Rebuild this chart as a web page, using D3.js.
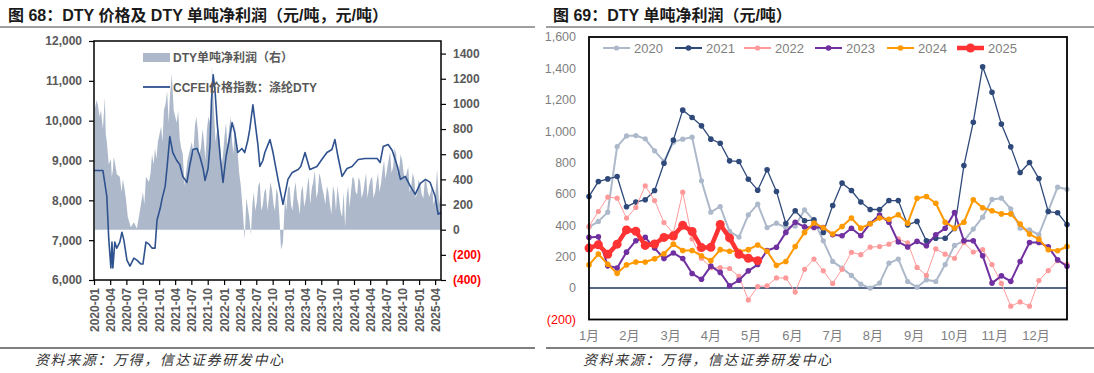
<!DOCTYPE html>
<html>
<head>
<meta charset="utf-8">
<script src="https://cdn.jsdelivr.net/npm/d3@7"></script>
<style>
  body { margin: 0; background: #fff; }
  svg { display: block; font-family: "Liberation Sans", "Noto Sans CJK SC", sans-serif; }
  .title { font-size: 16px; font-weight: bold; fill: #1a1a1a; }
  .source { font-size: 14px; font-style: italic; fill: #333; letter-spacing: 1.6px; }
</style>
</head>
<body>
<div id="chart"></div>
<script>
// ---------- left chart data: CCFEI DTY price (left axis) ----------
var priceDates = ["2020-01-01","2020-02-20","2020-03-13","2020-03-24","2020-04-05","2020-04-11","2020-04-16","2020-04-27",
  "2020-05-08","2020-05-25","2020-06-06","2020-06-17","2020-07-04","2020-07-21","2020-08-12","2020-08-29","2020-09-21",
  "2020-10-02","2020-10-19","2020-11-05","2020-11-22","2020-12-09","2020-12-20","2021-01-07","2021-01-18","2021-02-04",
  "2021-02-15","2021-03-02","2021-03-19","2021-04-10","2021-04-27","2021-05-14","2021-06-06","2021-06-23","2021-07-10",
  "2021-08-02","2021-08-18","2021-09-05","2021-09-16","2021-10-03","2021-10-14","2021-10-22","2021-11-01","2021-11-12",
  "2021-11-23","2021-12-10","2021-12-26","2022-01-12","2022-01-29","2022-02-15","2022-03-02","2022-03-19","2022-04-11",
  "2022-04-27","2022-05-14","2022-05-25","2022-06-12","2022-06-23","2022-07-10","2022-07-21","2022-08-07","2022-08-18",
  "2022-09-16","2022-10-03","2022-10-31","2022-11-28","2022-12-26","2023-01-19","2023-02-21","2023-03-08","2023-04-01",
  "2023-04-28","2023-06-07","2023-07-04","2023-08-02","2023-08-30","2023-09-16","2023-10-03","2023-10-26","2023-11-23",
  "2023-12-21","2024-01-25","2024-03-03","2024-04-12","2024-05-10","2024-05-27","2024-06-13","2024-07-11","2024-08-03",
  "2024-09-01","2024-09-18","2024-10-15","2024-11-13","2024-12-10","2025-01-08","2025-02-06","2025-03-04","2025-04-01",
  "2025-04-18","2025-05-04"];
var priceValues = [8750,8750,8100,7025,6300,6950,6300,6950,
  6800,6950,7200,7000,6500,6350,6550,6500,6400,
  6400,6950,6900,6800,6800,7500,7800,8050,8350,
  8850,9600,9200,9000,8900,8600,8450,8900,9275,
  9300,9100,8800,8500,8800,9400,10500,11150,10700,
  9950,9100,8450,9100,9500,9950,9700,9200,9300,
  9200,9500,9775,10400,10000,9400,8850,9000,9200,
  9525,9200,8525,7900,8525,8700,8775,8850,9200,
  8775,8850,9025,9200,9275,9525,9100,8600,8800,
  8850,9025,9050,9050,9050,8950,9350,9400,9250,
  8850,8525,8600,8350,8150,8425,8525,8450,8100,
  7650,7700];

// ---------- left chart data: DTY profit per ton (right axis) ----------
var profitDates = [
  "2020-01-06","2020-01-15","2020-01-23","2020-02-01","2020-02-09","2020-02-20","2020-03-02","2020-03-07","2020-03-13","2020-03-24",
  "2020-04-05","2020-04-10","2020-04-16","2020-04-21","2020-04-27","2020-05-08","2020-05-25","2020-06-04","2020-06-11","2020-06-20",
  "2020-06-28","2020-07-09","2020-07-26","2020-08-12","2020-08-29","2020-09-15","2020-10-02","2020-10-10","2020-10-19","2020-11-05",
  "2020-11-14","2020-11-22","2020-12-01","2020-12-09","2020-12-17","2020-12-25","2021-01-12","2021-01-20","2021-01-28","2021-02-06",
  "2021-02-15","2021-02-24","2021-03-02","2021-03-13","2021-03-24","2021-04-10","2021-04-18","2021-04-27","2021-05-05","2021-05-14",
  "2021-05-24","2021-06-01","2021-06-09","2021-06-17","2021-07-04","2021-07-12","2021-07-21","2021-07-29","2021-08-07","2021-08-15",
  "2021-08-24","2021-09-02","2021-09-10","2021-09-18","2021-09-27","2021-10-05","2021-10-14","2021-10-20","2021-10-25","2021-10-30",
  "2021-11-05","2021-11-14","2021-11-22","2021-12-01","2021-12-09","2021-12-18","2021-12-26","2022-01-04","2022-01-12","2022-01-20",
  "2022-01-29","2022-02-07","2022-02-15","2022-02-23","2022-03-02","2022-03-10","2022-03-19","2022-03-27","2022-04-05","2022-04-16",
  "2022-04-27","2022-05-06","2022-05-14","2022-05-22","2022-06-01","2022-06-09","2022-06-17","2022-06-25","2022-07-04","2022-07-12",
  "2022-07-21","2022-07-29","2022-08-07","2022-08-15","2022-08-24","2022-09-01","2022-09-10","2022-09-18","2022-09-27","2022-10-06",
  "2022-10-14","2022-10-22","2022-10-31","2022-11-08","2022-11-17","2022-11-28","2022-12-09","2022-12-17","2022-12-26","2023-01-04",
  "2023-01-12","2023-01-20","2023-01-29","2023-02-07","2023-02-15","2023-02-23","2023-03-02","2023-03-10","2023-03-19","2023-03-27",
  "2023-04-06","2023-04-14","2023-04-22","2023-04-30","2023-05-09","2023-05-17","2023-05-26","2023-06-04","2023-06-12","2023-06-20",
  "2023-06-29","2023-07-07","2023-07-15","2023-07-24","2023-08-02","2023-08-10","2023-08-19","2023-08-27","2023-09-05","2023-09-13",
  "2023-09-22","2023-09-30","2023-10-09","2023-10-17","2023-10-26","2023-11-04","2023-11-12","2023-11-20","2023-11-29","2023-12-07",
  "2023-12-15","2023-12-24","2024-01-02","2024-01-10","2024-01-19","2024-01-27","2024-02-05","2024-02-13","2024-02-22","2024-03-01",
  "2024-03-09","2024-03-17","2024-03-26","2024-04-04","2024-04-12","2024-04-20","2024-04-29","2024-05-07","2024-05-15","2024-05-23",
  "2024-06-02","2024-06-10","2024-06-18","2024-06-26","2024-07-05","2024-07-13","2024-07-22","2024-07-30","2024-08-08","2024-08-16",
  "2024-08-25","2024-09-02","2024-09-11","2024-09-19","2024-09-28","2024-10-06","2024-10-15","2024-10-23","2024-11-01","2024-11-09",
  "2024-11-18","2024-11-26","2024-12-05","2024-12-13","2024-12-21","2024-12-29","2025-01-08","2025-01-16","2025-01-25","2025-02-02",
  "2025-02-11","2025-02-19","2025-02-28","2025-03-07","2025-03-15","2025-03-23","2025-04-01","2025-04-12","2025-04-23","2025-05-04"];
var profitValues = [
  960,1030,990,900,950,800,1050,760,700,520,
  560,420,470,580,540,440,420,300,400,330,
  250,100,20,60,10,150,300,200,420,380,
  450,600,520,650,560,700,820,700,950,1000,
  1100,850,1050,1240,950,850,950,720,650,600,
  350,450,550,600,700,600,820,900,780,600,
  650,800,700,550,800,900,850,750,1300,1150,
  950,700,780,800,700,500,600,750,850,650,
  800,900,700,600,850,700,600,450,350,150,
  -80,250,180,100,-40,200,300,150,220,350,
  380,150,200,300,330,150,250,380,320,200,
  150,330,280,100,-160,-100,250,150,330,350,
  200,150,300,380,250,200,120,300,350,180,
  250,350,420,200,330,380,470,250,300,450,
  400,330,280,200,350,300,200,120,350,300,
  150,350,250,150,100,300,20,250,350,180,
  300,420,400,300,280,420,380,250,300,380,
  450,250,350,400,420,250,300,380,450,300,
  380,480,550,400,480,550,620,450,500,650,
  600,450,480,600,550,450,400,450,500,300,
  350,450,400,250,300,400,350,280,250,400,
  380,300,260,300,350,200,250,480,200,300];

var quarterTicks = ["2020-01","2020-04","2020-07","2020-10","2021-01","2021-04","2021-07","2021-10",
  "2022-01","2022-04","2022-07","2022-10","2023-01","2023-04","2023-07","2023-10",
  "2024-01","2024-04","2024-07","2024-10","2025-01","2025-04"];
var priceTicks = [6000, 7000, 8000, 9000, 10000, 11000, 12000];
var profitTicks = [-400, -200, 0, 200, 400, 600, 800, 1000, 1200, 1400];

// ---------- right chart data: weekly profit by year ----------
var monthLabels = ["1月","2月","3月","4月","5月","6月","7月","8月","9月","10月","11月","12月"];
var monthWeek = [0, 4.3, 8.7, 13, 17.3, 21.7, 26, 30.3, 34.7, 39, 43.3, 47.7];
var yearTicks = [-200, 0, 200, 400, 600, 800, 1000, 1200, 1400, 1600];
var years = ["2020", "2021", "2022", "2023", "2024", "2025"];

var profit2020 = [389,425,484,902,970,972,951,875,807,930,949,962,684,
  484,520,361,325,467,535,386,414,386,395,499,430,301,
  170,127,81,25,0,32,159,185,42,6,53,42,150,
  272,301,376,452,565,573,505,382,371,340,492,643,630];
var profit2021 = [584,679,696,711,518,548,563,622,796,943,1134,1087,1034,
  949,923,811,807,694,624,754,616,412,493,429,435,355,
  526,669,622,548,501,501,558,558,403,425,301,318,318,
  380,781,1057,1410,1248,1045,900,737,800,698,488,480,405];
var profit2022 = [393,488,580,573,446,514,652,558,418,350,611,314,191,
  130,130,125,75,-75,10,15,65,65,-25,120,185,110,
  30,120,228,213,261,265,280,314,288,132,81,250,216,
  190,290,230,245,150,30,-115,-88,-115,48,112,175,152];
var profit2023 = [323,327,142,128,229,302,323,255,188,224,188,93,56,
  140,100,15,50,110,150,240,260,355,420,390,386,386,
  340,334,381,334,412,466,420,294,262,298,270,340,381,
  482,302,302,206,32,78,43,170,291,291,263,180,139];
var profit2024 = [148,217,152,94,148,166,166,187,219,280,240,240,206,
  175,245,235,235,245,275,235,145,170,265,355,415,385,
  345,393,446,382,410,446,439,467,414,573,584,541,420,
  382,420,563,512,493,473,473,408,344,312,244,238,265];
var profit2025 = [255,276,215,280,371,362,272,281,323,332,400,361,258,
  260,405,320,215,190,175];

var yearSeries = [profit2020, profit2021, profit2022, profit2023, profit2024, profit2025];
var yearColors = ["#adb9ca", "#2f4a7a", "#ff9a9a", "#7030a0", "#ff9900", "#ff3333"];
var yearWidths = [2, 1.3, 1, 2, 2, 4.5];
var yearDots = [2.6, 2.8, 2.6, 2.8, 2.8, 4.5];

var parseDay = d3.timeParse("%Y-%m-%d");
var parseMonth = d3.timeParse("%Y-%m");

var svg = d3.select("#chart")
  .append("svg")
  .attr("width", 1094)
  .attr("height", 373);

// ---------- header / footer rules and titles ----------
svg.append("text").attr("class", "title").attr("x", 8).attr("y", 21)
  .text("图 68：DTY 价格及 DTY 单吨净利润（元/吨，元/吨）");
svg.append("text").attr("class", "title").attr("x", 553).attr("y", 21)
  .text("图 69：DTY 单吨净利润（元/吨）");

[[0, 535], [546, 1094]].forEach(function(seg) {
  svg.append("line").attr("x1", seg[0]).attr("x2", seg[1]).attr("y1", 27).attr("y2", 27)
    .attr("stroke", "#7f7f7f").attr("stroke-width", 1.5);
  svg.append("line").attr("x1", seg[0]).attr("x2", seg[1]).attr("y1", 348).attr("y2", 348)
    .attr("stroke", "#7f7f7f").attr("stroke-width", 2);
});
svg.append("text").attr("class", "source").attr("x", 35).attr("y", 365).text("资料来源：万得，信达证券研发中心");
svg.append("text").attr("class", "source").attr("x", 583).attr("y", 365).text("资料来源：万得，信达证券研发中心");

// =================== LEFT CHART ===================
var L = { left: 94, right: 441, top: 41, bottom: 280 };

var xTime = d3.scaleTime()
  .domain([parseDay("2020-01-01"), parseDay("2025-05-04")])
  .range([L.left, L.right]);
var yPrice = d3.scaleLinear().domain([6000, 12000]).range([L.bottom, L.top]);
var yProfit = d3.scaleLinear().domain([-400, 1500]).range([L.bottom, L.top]);

svg.append("clipPath").attr("id", "clipL")
  .append("rect").attr("x", L.left).attr("y", L.top)
  .attr("width", L.right - L.left).attr("height", L.bottom - L.top);

var profitRows = profitDates.map(function(d, i) { return { date: parseDay(d), value: profitValues[i] }; });
var priceRows = priceDates.map(function(d, i) { return { date: parseDay(d), value: priceValues[i] }; });

var profitArea = d3.area()
  .x(function(d) { return xTime(d.date); })
  .y0(yProfit(0))
  .y1(function(d) { return yProfit(d.value); });

svg.append("path")
  .datum(profitRows)
  .attr("clip-path", "url(#clipL)")
  .attr("d", profitArea)
  .attr("fill", "#adb9ca");

var priceLine = d3.line()
  .x(function(d) { return xTime(d.date); })
  .y(function(d) { return yPrice(d.value); });

svg.append("path")
  .datum(priceRows)
  .attr("clip-path", "url(#clipL)")
  .attr("d", priceLine)
  .attr("fill", "none")
  .attr("stroke", "#2f528f")
  .attr("stroke-width", 1.6)
  .attr("stroke-linejoin", "round");

// frame
svg.append("rect").attr("x", L.left).attr("y", L.top)
  .attr("width", L.right - L.left).attr("height", L.bottom - L.top)
  .attr("fill", "none").attr("stroke", "#000").attr("stroke-width", 1.5);

// left axis
var leftAxis = svg.append("g")
  .attr("transform", "translate(" + L.left + ",0)")
  .call(d3.axisLeft(yPrice).tickValues(priceTicks).tickSize(5).tickPadding(7).tickFormat(d3.format(",")));
leftAxis.select(".domain").remove();
leftAxis.selectAll("line").attr("stroke", "#000").attr("stroke-width", 1.2);
leftAxis.selectAll("text")
  .attr("font-size", 12).attr("font-weight", "bold").attr("fill", "#595959")
  .attr("font-family", "Liberation Sans, sans-serif");

// right axis (profit)
var rightAxis = svg.append("g")
  .attr("transform", "translate(" + L.right + ",0)")
  .call(d3.axisRight(yProfit).tickValues(profitTicks).tickSize(5).tickPadding(7)
    .tickFormat(function(d) { return d < 0 ? "(" + (-d) + ")" : d; }));
rightAxis.select(".domain").remove();
rightAxis.selectAll("line").attr("stroke", "#000").attr("stroke-width", 1.2);
rightAxis.selectAll("text")
  .attr("font-size", 12).attr("font-weight", "bold")
  .attr("font-family", "Liberation Sans, sans-serif")
  .attr("fill", function(d) { return d < 0 ? "#ff0000" : "#595959"; });

// bottom axis with rotated dates
var bottomAxis = svg.append("g")
  .attr("transform", "translate(0," + L.bottom + ")")
  .call(d3.axisBottom(xTime)
    .tickValues(quarterTicks.map(function(t) { return parseMonth(t); }))
    .tickSize(5)
    .tickFormat(d3.timeFormat("%Y-%m")));
bottomAxis.select(".domain").remove();
bottomAxis.selectAll("line").attr("stroke", "#000").attr("stroke-width", 1.2);
bottomAxis.selectAll("text")
  .attr("font-size", 12).attr("font-weight", "bold").attr("fill", "#595959")
  .attr("font-family", "Liberation Sans, sans-serif")
  .attr("text-anchor", "end")
  .attr("transform", "translate(0,8) rotate(-90)")
  .attr("x", 0).attr("y", 0).attr("dy", "0.35em");

// legend
var legL = svg.append("g").attr("font-size", 12).attr("font-weight", "bold").attr("fill", "#595959");
legL.append("rect").attr("x", 143).attr("y", 53).attr("width", 27).attr("height", 9).attr("fill", "#adb9ca");
legL.append("text").attr("x", 173).attr("y", 62).text("DTY单吨净利润（右）");
legL.append("line").attr("x1", 143).attr("x2", 170).attr("y1", 87).attr("y2", 87)
  .attr("stroke", "#2f528f").attr("stroke-width", 1.8);
legL.append("text").attr("x", 173).attr("y", 92).text("CCFEI价格指数：涤纶DTY");

// =================== RIGHT CHART ===================
var R = { left: 589, right: 1067, top: 37, bottom: 319.5 };

var xWeek = d3.scaleLinear().domain([0, 51]).range([R.left, R.right]);
var yYear = d3.scaleLinear().domain([-200, 1600]).range([R.bottom, R.top]);

// y labels
svg.append("g")
  .selectAll("text")
  .data(yearTicks)
  .enter()
  .append("text")
  .attr("x", 576)
  .attr("y", function(d) { return yYear(d); })
  .attr("dy", "0.35em")
  .attr("text-anchor", "end")
  .attr("font-size", 12.5)
  .attr("fill", function(d) { return d < 0 ? "#ff0000" : "#7f7f7f"; })
  .text(function(d) { return d < 0 ? "(" + (-d) + ")" : d3.format(",")(d); });

// x labels
svg.append("g")
  .selectAll("text")
  .data(monthLabels)
  .enter()
  .append("text")
  .attr("x", function(d, i) { return xWeek(monthWeek[i]); })
  .attr("y", 340)
  .attr("text-anchor", "middle")
  .attr("font-size", 13)
  .attr("fill", "#7f7f7f")
  .text(function(d) { return d; });

// zero line
svg.append("line")
  .attr("x1", R.left).attr("x2", R.right)
  .attr("y1", yYear(0)).attr("y2", yYear(0))
  .attr("stroke", "#1f3864").attr("stroke-width", 1.5);

var weekLine = d3.line()
  .x(function(d, i) { return xWeek(i); })
  .y(function(d) { return yYear(d); });

yearSeries.forEach(function(series, k) {
  var g = svg.append("g");
  g.append("path")
    .datum(series)
    .attr("d", weekLine)
    .attr("fill", "none")
    .attr("stroke", yearColors[k])
    .attr("stroke-width", yearWidths[k])
    .attr("stroke-linejoin", "round");
  g.selectAll("circle")
    .data(series)
    .enter()
    .append("circle")
    .attr("cx", function(d, i) { return xWeek(i); })
    .attr("cy", function(d) { return yYear(d); })
    .attr("r", yearDots[k])
    .attr("fill", yearColors[k]);
});

// frame
svg.append("rect").attr("x", R.left).attr("y", R.top)
  .attr("width", R.right - R.left).attr("height", R.bottom - R.top)
  .attr("fill", "none").attr("stroke", "#000").attr("stroke-width", 1.8);

// legend
var legX = [634, 706, 775, 846, 918, 988];
var legR = svg.append("g");
years.forEach(function(y, k) {
  var tx = legX[k];
  legR.append("line").attr("x1", tx - 31).attr("x2", tx - 4).attr("y1", 48).attr("y2", 48)
    .attr("stroke", yearColors[k]).attr("stroke-width", k === 5 ? 4.5 : 2);
  legR.append("circle").attr("cx", tx - 17.5).attr("cy", 48).attr("r", yearDots[k]).attr("fill", yearColors[k]);
  legR.append("text").attr("x", tx).attr("y", 48).attr("dy", "0.35em")
    .attr("font-size", 13).attr("fill", "#7f7f7f").text(y);
});
</script>
</body>
</html>
